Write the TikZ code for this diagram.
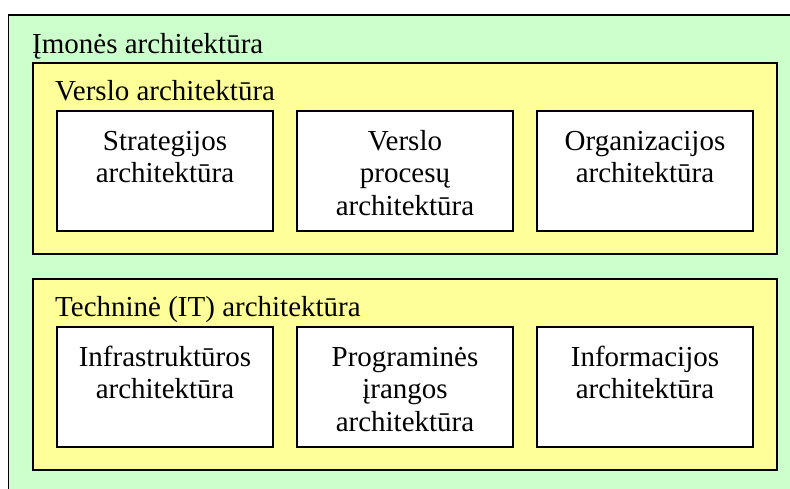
\documentclass[tikz,border=0pt]{standalone}
\usepackage{fontspec}
\setmainfont{Liberation Serif}
\definecolor{outergreen}{HTML}{CCFFCC}
\definecolor{layeryellow}{HTML}{FFFF99}
\tikzset{
  frame/.style={draw=black, line width=1.3pt},
  layer/.style={frame, fill=layeryellow},
  part/.style={frame, fill=white, rectangle, minimum width=216pt, minimum height=120pt, inner sep=0pt},
  title/.style={anchor=base west, inner sep=0pt, font=\fontsize{29pt}{32.5pt}\selectfont},
  parttext/.style={anchor=base, inner sep=0pt, align=center, font=\fontsize{29pt}{32.5pt}\selectfont},
}
\begin{document}
\begin{tikzpicture}[x=1pt,y=-1pt]
\useasboundingbox (0,0) rectangle (790,488);
\clip (0,0) rectangle (790,488);
% outer
\draw[frame, fill=outergreen] (8.5,15) rectangle (820,520);
\node[title] (imone) at (32,53) {Įmonės architektūra};
% business layer
\draw[layer] (33,63) rectangle (777,254);
\node[title] (verslas) at (55,100) {Verslo architektūra};
\node[part] (b1) at (165,171) {};
\node[part] (b2) at (405,171) {};
\node[part] (b3) at (645,171) {};
\node[parttext] (t1) at (165,182.5) {Strategijos\\architektūra};
\node[parttext] (t2) at (405,215) {Verslo\\procesų\\architektūra};
\node[parttext] (t3) at (645,182.5) {Organizacijos\\architektūra};
% IT layer
\draw[layer] (33,279) rectangle (777,470);
\node[title] (it) at (55,316) {Techninė (IT) architektūra};
\node[part] (c1) at (165,387) {};
\node[part] (c2) at (405,387) {};
\node[part] (c3) at (645,387) {};
\node[parttext] (u1) at (165,398.5) {Infrastruktūros\\architektūra};
\node[parttext] (u2) at (405,431) {Programinės\\įrangos\\architektūra};
\node[parttext] (u3) at (645,398.5) {Informacijos\\architektūra};
\end{tikzpicture}
\end{document}
